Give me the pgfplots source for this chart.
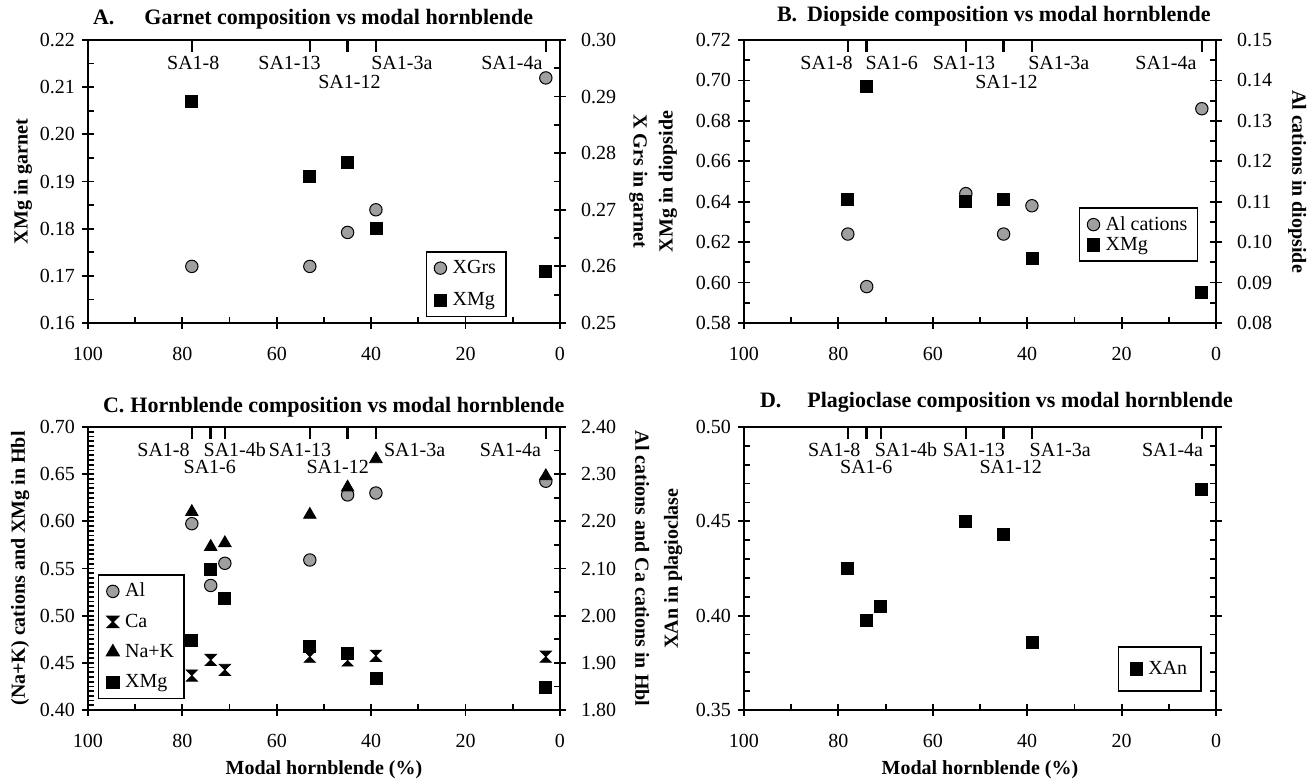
\documentclass[border=0pt]{standalone}
\usepackage{pgfplots}
\pgfplotsset{compat=1.18}
\usepackage{fontspec}
\setmainfont{Liberation Serif}

\pgfdeclareplotmark{hourglass}{%
  \pgfpathmoveto{\pgfqpoint{-\pgfplotmarksize}{\pgfplotmarksize}}%
  \pgfpathlineto{\pgfqpoint{\pgfplotmarksize}{\pgfplotmarksize}}%
  \pgfpathlineto{\pgfqpoint{-\pgfplotmarksize}{-\pgfplotmarksize}}%
  \pgfpathlineto{\pgfqpoint{\pgfplotmarksize}{-\pgfplotmarksize}}%
  \pgfpathclose\pgfusepathqfillstroke}

\pgfplotsset{
  panel/.style={scale only axis, width=236pt, height=141.5pt, xmin=0, xmax=100,
    x dir=reverse, clip=false,
    tick align=center, major tick length=6pt, minor tick length=3pt,
    tick style={black, line width=0.9pt},
    axis line style={line width=1pt, -},
    /pgf/number format/assume math mode=true,
    tick label style={font=\fontsize{10}{12}\selectfont},
    label style={font=\bfseries\fontsize{10}{12}\selectfont},
    title style={font=\bfseries\fontsize{11}{13}\selectfont, anchor=west, at={(axis description cs:0,1)}},
    yticklabel style={/pgf/number format/.cd, fixed, fixed zerofill, precision=2},
  },
  leftax/.style={panel, xtick={0,20,40,60,80,100}, minor x tick num=1,
    xtick pos=left, ytick pos=left, xticklabel shift=5.5pt,
    every minor x tick/.append style={yshift=1.5pt},
    every minor y tick/.append style={xshift=1.5pt},
    legend cell align=left,
    legend style={draw=black, line width=0.7pt, font=\fontsize{10}{12}\selectfont,
      inner xsep=4pt, inner ysep=3pt, column sep=2pt, nodes={inner sep=1pt}},
    legend image code/.code={\draw[mark repeat=1,##1] plot coordinates {(0.12cm,0cm)};},
  },
  rightax/.style={panel, axis x line=none, axis y line*=right,
    yticklabel shift=4pt,
    every minor y tick/.append style={xshift=-1.5pt},
  },
  sq/.style={only marks, mark=square*, mark size=3pt, mark options={fill=black, draw=black}},
  ci/.style={only marks, mark=*, mark size=3.1pt, mark options={fill=gray!75, draw=black, line width=0.5pt}},
  tri/.style={only marks, mark=triangle*, mark size=3.6pt, mark options={fill=black, draw=black}},
  hg/.style={only marks, mark=hourglass, mark size=2.8pt, mark options={fill=black, draw=black}},
}

\newcommand{\stick}[1]{\coordinate (st) at ({axis cs:#1,0}|-{rel axis cs:0,1});
  \draw[line width=1.3pt] (st) -- ([yshift=-6pt]st);}
\newcommand{\slab}[3]{\node[font=\fontsize{10}{12}\selectfont, inner sep=0pt] at ({axis cs:#1,0}|-{rel axis cs:0,1}) [yshift=-#2] {#3};}

\begin{document}
\begin{tikzpicture}
\useasboundingbox (0,0) rectangle (654pt,390.5pt);

% ---------------- Panel A ----------------
\begin{axis}[rightax, at={(44pt,229pt)}, anchor=south west,
  ymin=0.25, ymax=0.30, ytick={0.25,0.26,0.27,0.28,0.29,0.30}, minor y tick num=1,
  ylabel={X Grs in garnet},
  ylabel style={at={(axis description cs:1.166,0.5)}, anchor=center, rotate=180}]
\addplot[ci] coordinates {(78,0.260) (53,0.260) (45,0.266) (39,0.270) (3,0.2933)};
\end{axis}
\begin{axis}[leftax, at={(44pt,229pt)}, anchor=south west,
  ymin=0.16, ymax=0.22, ytick={0.16,0.17,0.18,0.19,0.20,0.21,0.22}, minor y tick num=1,
  ylabel={XMg in garnet},
  ylabel style={at={(axis description cs:-0.138,0.5)}, anchor=center},
  title={A.\hspace{15pt}Garnet composition vs modal hornblende},
  title style={xshift=-1pt, yshift=4.5pt},
  legend style={at={(axis description cs:0.887,0.021)}, anchor=south east, row sep=6pt}]
\addlegendimage{ci}\addlegendentry{XGrs}
\addplot[sq] coordinates {(78,0.207) (53,0.191) (45,0.194) (39,0.180) (3,0.171)};
\addlegendentry{XMg}
\stick{78}\stick{53}\stick{45}\stick{39}\stick{3}
\slab{77.7}{11.5pt}{SA1-8}
\slab{57.3}{11.5pt}{SA1-13}
\slab{44.6}{21pt}{SA1-12}
\slab{33.5}{11.5pt}{SA1-3a}
\slab{10.2}{11.5pt}{SA1-4a}
\end{axis}

% ---------------- Panel B ----------------
\begin{axis}[rightax, at={(372pt,229pt)}, anchor=south west,
  ymin=0.08, ymax=0.15, ytick={0.08,0.09,0.10,0.11,0.12,0.13,0.14,0.15}, minor y tick num=1,
  ylabel={Al cations in diopside},
  ylabel style={at={(axis description cs:1.172,0.5)}, anchor=center, rotate=180}]
\addplot[ci] coordinates {(78,0.102) (74,0.089) (53,0.112) (45,0.102) (39,0.109) (3,0.133)};
\end{axis}
\begin{axis}[leftax, at={(372pt,229pt)}, anchor=south west,
  ymin=0.58, ymax=0.72, ytick={0.58,0.60,0.62,0.64,0.66,0.68,0.70,0.72}, minor y tick num=1,
  ylabel={XMg in diopside},
  ylabel style={at={(axis description cs:-0.161,0.5)}, anchor=center},
  title={B.\hspace{5pt}Diopside composition vs modal hornblende},
  title style={xshift=13pt, yshift=6pt},
  legend style={at={(axis description cs:0.962,0.216)}, anchor=south east, row sep=0pt}]
\addlegendimage{ci}\addlegendentry{Al cations}
\addplot[sq] coordinates {(78,0.641) (74,0.697) (53,0.640) (45,0.641) (39,0.612) (3,0.595)};
\addlegendentry{XMg}
\stick{78}\stick{74}\stick{53}\stick{45}\stick{39}\stick{3}
\slab{82.5}{11.5pt}{SA1-8}
\slab{68.7}{11.5pt}{SA1-6}
\slab{53.4}{11.5pt}{SA1-13}
\slab{44.4}{21pt}{SA1-12}
\slab{33.3}{11.5pt}{SA1-3a}
\slab{10.6}{11.5pt}{SA1-4a}
\end{axis}

% ---------------- Panel C ----------------
\begin{axis}[rightax, at={(44pt,35.5pt)}, anchor=south west,
  ymin=1.80, ymax=2.40, ytick={1.80,1.90,2.00,2.10,2.20,2.30,2.40}, minor y tick num=1,
  ylabel={Al cations and Ca cations in Hbl},
  ylabel style={at={(axis description cs:1.174,0.5)}, anchor=center, rotate=180}]
\addplot[ci] coordinates {(78,2.195) (74,2.064) (71,2.111) (53,2.118) (45,2.256) (39,2.260) (3,2.285)};
\addplot[hg] coordinates {(78,1.873) (74,1.906) (71,1.885) (53,1.913) (45,1.905) (39,1.915) (3,1.913)};
\end{axis}
\begin{axis}[leftax, at={(44pt,35.5pt)}, anchor=south west,
  ymin=0.40, ymax=0.70, ytick={0.40,0.45,0.50,0.55,0.60,0.65,0.70}, minor y tick num=9,
  ylabel={(Na+K) cations and XMg in Hbl},
  ylabel style={at={(axis description cs:-0.144,0.5)}, anchor=center},
  xlabel={Modal hornblende (\%)},
  xlabel style={at={(axis description cs:0.5,-0.21)}, anchor=center},
  title={C.\hspace{3pt}Hornblende composition vs modal hornblende},
  title style={xshift=4pt, yshift=4pt},
  legend style={at={(axis description cs:0.021,0.039)}, anchor=south west, row sep=5pt}]
\addlegendimage{ci}\addlegendentry{Al}
\addlegendimage{hg}\addlegendentry{Ca}
\addplot[tri] coordinates {(78,0.610) (74,0.573) (71,0.577) (53,0.607) (45,0.636) (39,0.666) (3,0.648)};
\addlegendentry{Na+K}
\addplot[sq] coordinates {(78,0.474) (74,0.549) (71,0.5185) (53,0.467) (45,0.460) (39,0.434) (3,0.424)};
\addlegendentry{XMg}
\stick{78}\stick{74}\stick{71}\stick{53}\stick{45}\stick{39}\stick{3}
\slab{84.0}{11.5pt}{SA1-8}
\slab{74.2}{20pt}{SA1-6}
\slab{68.9}{11.5pt}{SA1-4b}
\slab{55.1}{11.5pt}{SA1-13}
\slab{47.1}{20pt}{SA1-12}
\slab{30.8}{11.5pt}{SA1-3a}
\slab{10.5}{11.5pt}{SA1-4a}
\end{axis}

% ---------------- Panel D ----------------
\begin{axis}[rightax, at={(372pt,35.5pt)}, anchor=south west,
  ymin=0.35, ymax=0.50, ytick={0.35,0.40,0.45,0.50}, minor y tick num=4,
  yticklabels={}]
\end{axis}
\begin{axis}[leftax, at={(372pt,35.5pt)}, anchor=south west,
  ymin=0.35, ymax=0.50, ytick={0.35,0.40,0.45,0.50}, minor y tick num=4,
  ylabel={XAn in plagioclase},
  ylabel style={at={(axis description cs:-0.150,0.5)}, anchor=center},
  xlabel={Modal hornblende (\%)},
  xlabel style={at={(axis description cs:0.5,-0.21)}, anchor=center},
  title={D.\hspace{13pt}Plagioclase composition vs modal hornblende},
  title style={xshift=4.5pt, yshift=6.5pt},
  legend style={at={(axis description cs:0.970,0.064)}, anchor=south east,
    inner xsep=6pt, inner ysep=6pt}]
\addplot[sq] coordinates {(78,0.425) (74,0.3975) (71,0.405) (53,0.450) (45,0.443) (39,0.386) (3,0.467)};
\addlegendentry{XAn}
\stick{78}\stick{74}\stick{71}\stick{53}\stick{45}\stick{39}\stick{3}
\slab{80.9}{11.5pt}{SA1-8}
\slab{74.1}{20pt}{SA1-6}
\slab{65.7}{11.5pt}{SA1-4b}
\slab{51.3}{11.5pt}{SA1-13}
\slab{43.5}{20pt}{SA1-12}
\slab{33.0}{11.5pt}{SA1-3a}
\slab{9.2}{11.5pt}{SA1-4a}
\end{axis}
\end{tikzpicture}
\end{document}
